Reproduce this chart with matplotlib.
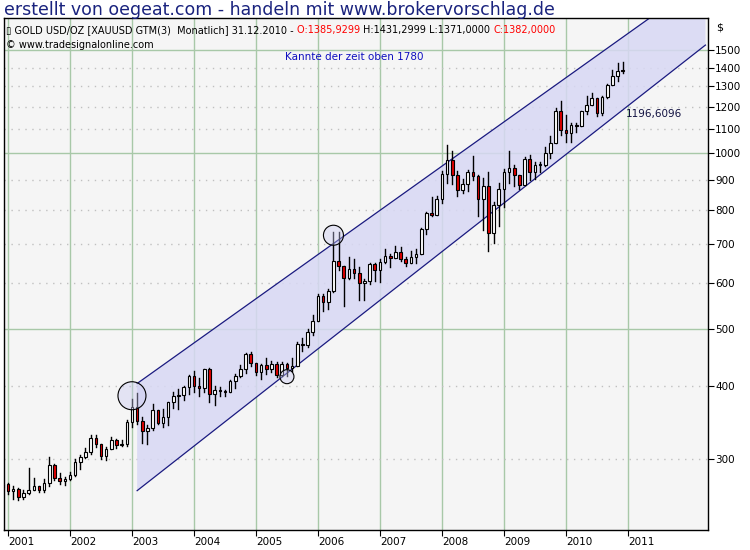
import matplotlib
matplotlib.use("Agg")
import matplotlib.pyplot as plt
import numpy as np
from matplotlib.patches import Rectangle, Polygon, Circle
from matplotlib.transforms import IdentityTransform

# Monthly gold data, Dec 2000 .. Dec 2010
closes = [272,
 265,267,258,263,266,270,266,273,293,279,275,277,
 282,297,302,308,326,318,304,312,324,317,318,347,
 368,348,335,339,364,346,354,375,385,386,398,416,
 400,397,427,388,394,392,391,408,416,428,453,438,
 422,435,428,436,418,436,430,433,472,470,495,517,
 569,556,582,654,642,613,633,624,599,604,646,632,
 651,666,662,679,659,650,665,673,743,789,783,834,
 923,972,916,864,885,928,913,834,880,730,815,870,
 928,943,916,883,979,927,954,955,1002,1040,1180,1096,
 1081,1116,1113,1180,1207,1244,1169,1248,1307,1357,1384,1382]
opens = [268] + closes[:-1]
opens[-1] = 1385.93
highs = [276,
 273,270,268,266,290,279,270,277,302,294,284,280,
 285,300,305,314,330,330,318,315,327,325,324,350,
 380,389,354,343,372,363,366,376,391,395,400,418,
 425,413,427,430,400,399,394,409,420,434,456,457,
 432,436,446,441,440,440,438,447,476,483,500,530,
 574,575,585,733,732,630,664,660,639,610,650,649,
 660,685,672,695,691,665,680,685,745,794,842,844,
 932,1033,1010,932,905,935,988,918,906,930,826,888,
 940,1007,956,915,985,991,966,966,1025,1070,1195,1226,
 1160,1127,1128,1180,1250,1265,1243,1250,1315,1388,1424,1431]
lows = [265,
 262,256,255,256,262,266,264,264,270,276,272,271,
 276,281,289,301,306,315,300,299,312,313,316,316,
 340,345,320,319,336,344,340,343,367,366,378,387,
 390,385,391,376,371,385,384,390,397,414,421,432,
 418,411,419,422,415,416,416,425,434,459,466,489,
 517,538,541,580,631,548,610,612,561,562,597,604,
 603,649,640,670,653,642,649,648,675,728,780,784,
 821,889,885,845,856,862,900,780,740,681,703,750,
 810,890,880,870,885,900,905,930,952,983,1047,1075,
 1045,1044,1088,1115,1165,1215,1157,1162,1240,1315,1330,1371]
year_labels = ["2001","2002","2003","2004","2005","2006","2007","2008","2009","2010","2011"]
price_ticks = [300,400,500,600,700,800,900,1000,1100,1200,1300,1400,1500]
solid_prices = [500,1000,1500]
channel_start = 25      # month index where channel begins
channel_lower = [265, 1530]
channel_upper = [404, 1990]
channel_end = 135
support_label = "1196,6096"

months = np.arange(-1, len(closes) - 1)   # 0 = Jan 2001

fig = plt.figure(figsize=(7.5, 5.5), dpi=100)
fig.patch.set_facecolor("white")
ax = fig.add_axes([4/750, 20/550, 704/750, 512/550])
ax.set_facecolor("#f5f5f5")
ax.set_yscale("log")
ax.set_xlim(-0.77, 135.5)
ax.set_ylim(227, 1702)

# grid
for i, _ in enumerate(year_labels):
    ax.axvline(i*12, color="#a8c8a8", lw=1, zorder=0)
for p in price_ticks:
    if p in solid_prices:
        ax.axhline(p, color="#a8c8a8", lw=1, zorder=0)
    else:
        ax.axhline(p, color="#c0c0c0", lw=1, ls=(0, (1, 4)), zorder=0)

# channel
xs = [channel_start, channel_end]
poly = Polygon([(xs[0], channel_lower[0]), (xs[1], channel_lower[1]),
                (xs[1], channel_upper[1]), (xs[0], channel_upper[0])],
               closed=True, facecolor="#d8d8f4", edgecolor="none", alpha=0.85, zorder=1)
ax.add_patch(poly)
ax.plot(xs, channel_lower, color="#1a1a80", lw=0.9, zorder=2)
ax.plot(xs, channel_upper, color="#1a1a80", lw=0.9, zorder=2)

# candles
w = 0.5
for m, o, h, l, c in zip(months, opens, highs, lows, closes):
    hi = max(h, o, c); lo = min(l, o, c)
    ax.plot([m, m], [lo, hi], color="black", lw=1, zorder=3)
    col = "white" if c >= o else "#e00000"
    b0, b1 = min(o, c), max(o, c)
    if b1 / b0 < 1.004:
        b1 = b0 * 1.004
    ax.add_patch(Rectangle((m - w/2, b0), w, b1 - b0, facecolor=col,
                           edgecolor="black", lw=0.8, zorder=4))

ax.text(67, 1460, "Kannte der zeit oben 1780", color="#1010c0", fontsize=7.5,
        ha="center", va="center")
ax.text(119.5, 1165, support_label, color="#101040", fontsize=7.5, va="center")

# axes styling
ax.yaxis.tick_right()
ax.set_yticks(price_ticks)
ax.set_yticklabels([str(p) for p in price_ticks], fontsize=7.5)
ax.yaxis.set_minor_locator(matplotlib.ticker.NullLocator())
ax.tick_params(axis="y", length=4, pad=1)
ax.set_xticks([i*12 for i in range(len(year_labels))])
ax.set_xticklabels(year_labels, fontsize=7.5, ha="left")
ax.tick_params(axis="x", length=4, pad=1)
for s in ax.spines.values():
    s.set_color("black"); s.set_linewidth(1)
fig.text(716/750, 1-27/550, "$", fontsize=8, va="center")

# header text
fig.text(4/750, 1-10/550, "erstellt von oegeat.com - handeln mit www.brokervorschlag.de",
         color="#1a237e", fontsize=12.5, va="center")
fig.canvas.draw()
r = fig.canvas.get_renderer()
parts = [("\u25af GOLD USD/OZ [XAUUSD GTM(3)  Monatlich] 31.12.2010 - ", "black"),
         ("O:1385,9299 ", "red"), ("H:1431,2999 L:1371,0000 ", "black"),
         ("C:1382,0000", "red")]
x = 6
for t, c in parts:
    tt = fig.text(x/750, 1-30/550, t, color=c, fontsize=7, va="center")
    x += tt.get_window_extent(r).width
fig.text(6/750, 1-45/550, "\u00a9 www.tradesignalonline.com", fontsize=7, va="center")

# circles
for (m, p, rad) in [(24, 385, 14), (63, 724, 10), (54, 415, 7)]:
    dx, dy = ax.transData.transform((m, p))
    ax.add_patch(Circle((dx, dy), rad, transform=IdentityTransform(),
                        facecolor="#c8c8f0", alpha=0.4, edgecolor="none", zorder=5))
    ax.add_patch(Circle((dx, dy), rad, transform=IdentityTransform(),
                        facecolor="none", edgecolor="black", lw=0.8, zorder=5))

fig.savefig("out.png", dpi=100)
